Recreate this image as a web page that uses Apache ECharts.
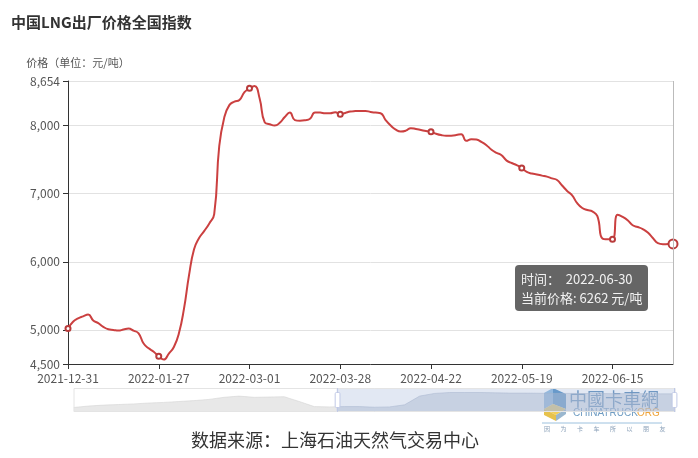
<!DOCTYPE html>
<html><head><meta charset="utf-8">
<script src="https://cdn.jsdelivr.net/npm/echarts@6/dist/echarts.min.js"></script>
<style>html,body{margin:0;padding:0;background:#fff;}#c{width:698px;height:458px;}</style>
</head><body><div id="c"></div>
<script>
const dates = [
'2021-12-31',
'2022-01-04','2022-01-05','2022-01-06','2022-01-07','2022-01-10','2022-01-11','2022-01-12','2022-01-13','2022-01-14',
'2022-01-17','2022-01-18','2022-01-19','2022-01-20','2022-01-21','2022-01-24','2022-01-25','2022-01-26','2022-01-27',
'2022-01-28','2022-02-07','2022-02-08','2022-02-09','2022-02-10','2022-02-11','2022-02-14','2022-02-15','2022-02-16',
'2022-02-17','2022-02-18','2022-02-21','2022-02-22','2022-02-23','2022-02-24','2022-02-25','2022-02-28','2022-03-01',
'2022-03-02','2022-03-03','2022-03-04','2022-03-07','2022-03-08','2022-03-09','2022-03-10','2022-03-11','2022-03-14',
'2022-03-15','2022-03-16','2022-03-17','2022-03-21','2022-03-22','2022-03-23','2022-03-24','2022-03-25','2022-03-28',
'2022-03-29','2022-03-30','2022-03-31','2022-04-01','2022-04-02','2022-04-06','2022-04-07','2022-04-08','2022-04-11',
'2022-04-12','2022-04-13','2022-04-14','2022-04-15','2022-04-18','2022-04-19','2022-04-20','2022-04-21','2022-04-22',
'2022-04-24','2022-04-25','2022-04-26','2022-04-27','2022-04-28','2022-04-29','2022-05-05','2022-05-06','2022-05-07',
'2022-05-09','2022-05-10','2022-05-11','2022-05-12','2022-05-13','2022-05-16','2022-05-17','2022-05-18','2022-05-19',
'2022-05-20','2022-05-23','2022-05-24','2022-05-25','2022-05-26','2022-05-27','2022-05-30','2022-05-31','2022-06-01',
'2022-06-02','2022-06-06','2022-06-07','2022-06-08','2022-06-09','2022-06-10','2022-06-13','2022-06-14','2022-06-15',
'2022-06-16','2022-06-17','2022-06-18','2022-06-20','2022-06-21','2022-06-22','2022-06-23','2022-06-24','2022-06-27',
'2022-06-28','2022-06-29','2022-06-30'
];
const prices = [
5020,
5120,5170,5200,5226,5140,5100,5045,5010,5000,
4990,5005,5020,4990,4950,4800,4730,4680,4613,
4565,4653,4750,4950,5310,5800,6185,6350,6450,
6560,6700,7700,8120,8300,8350,8375,8490,8546,
8580,8400,8050,8020,8000,8040,8125,8190,8080,
8070,8078,8100,8190,8190,8180,8181,8196,8166,
8185,8205,8212,8215,8215,8200,8190,8181,8080,
8000,7940,7912,7925,7962,7950,7935,7920,7908,
7880,7860,7850,7852,7860,7874,7777,7800,7795,
7760,7712,7645,7600,7565,7485,7450,7420,7378,
7320,7295,7282,7265,7250,7225,7200,7120,7040,
6975,6860,6790,6760,6740,6670,6342,6331,6331,
6690,6660,6610,6536,6511,6480,6429,6350,6273,
6258,6260,6262
];
// longer history shown only as the slider's data shadow (relative level)
const shadowValues = [0,10,16,20,24,30,34,40,46,54,68,76,68,70,72,40,6,4,6,6,2,4,18,76,94,100,100,100,98,96,96,95,94,94,93,93,92,92,92,91,91];
const yMin = 4500, yMax = 8654;
const titleText = '中国LNG出厂价格全国指数';
const yName = '价格（单位：元/吨）';
const sourceText = '数据来源：上海石油天然气交易中心';

const FONT = '"Noto Sans CJK SC","Noto Sans",sans-serif';
const chart = echarts.init(document.getElementById('c'));

const smallChars = ['因','为','卡','车','所','以','朋','友'];
const logoChildren = [
  {type:'polygon', shape:{points:[[544,393],[553,388],[553,404],[544,409]]}, style:{fill:'#8fbbe0'}},
  {type:'polygon', shape:{points:[[553,388],[566,394],[566,409],[553,404]]}, style:{fill:'#4f8fc4'}},
  {type:'polygon', shape:{points:[[544,409],[553,404],[566,409],[556,415]]}, style:{fill:'#f2cf5a'}},
  {type:'polygon', shape:{points:[[544,409],[556,415],[556,421],[544,415]]}, style:{fill:'#e7c24c'}},
  {type:'polygon', shape:{points:[[556,415],[566,409],[566,414],[556,421]]}, style:{fill:'#9ab7cf'}},
  {type:'text', x:569, y:399, style:{text:'中國卡車網', fill:'#5b8cb9', fontSize:18, fontFamily:'"Noto Sans CJK TC",sans-serif', verticalAlign:'middle'}},
  {type:'text', x:573, y:413, style:{text:'CHINATRUCK', fill:'#6f9cc2', fontSize:10, fontFamily:'"Liberation Sans",sans-serif', verticalAlign:'middle'}},
  {type:'text', x:637, y:413, style:{text:'ORG', fill:'#f0a43a', fontSize:10, fontFamily:'"Liberation Sans",sans-serif', verticalAlign:'middle'}},
  {type:'line', shape:{x1:542,y1:423,x2:662,y2:423}, style:{stroke:'#9cc1de', lineWidth:1}}
];
smallChars.forEach(function(ch, i){
  logoChildren.push({type:'text', x:544 + i*16.5, y:429, style:{text:ch, fill:'#8aa0b8', fontSize:6, fontFamily:FONT, verticalAlign:'middle'}});
});

const option = {
  animation: false,
  textStyle: {fontFamily: FONT},
  title: {text: titleText, left: 11, top: 15, padding: 0,
    textStyle: {fontSize: 15, fontWeight: 'bold', color: '#333', fontFamily: FONT}},
  grid: [
    {left: 68, right: 25, top: 81, bottom: 94},
    {left: -600, top: 0, width: 100, height: 20}
  ],
  tooltip: {
    trigger: 'axis', triggerOn: 'none', alwaysShowContent: true,
    position: [515, 265],
    backgroundColor: 'rgba(88,88,88,0.92)', borderWidth: 0, padding: [4, 6],
    textStyle: {color: '#f2f2f2', fontSize: 13, fontFamily: FONT},
    extraCssText: 'box-shadow:none;border-radius:4px;line-height:19px;',
    axisPointer: {type: 'line', lineStyle: {color: '#bbbbbb', width: 1, type: 'solid'}},
    formatter: function (params) {
      const p = params.filter(function (q) { return q.seriesIndex === 0; })[0];
      return '时间：&nbsp;&nbsp;' + p.name + '<br/>当前价格: ' + p.value + ' 元/吨';
    }
  },
  xAxis: [
    {type: 'category', gridIndex: 0, data: dates, boundaryGap: false,
      axisLine: {lineStyle: {color: '#333'}},
      axisTick: {interval: 17, lineStyle: {color: '#333'}},
      axisLabel: {interval: 17, color: '#555', fontSize: 12, margin: 8},
      splitLine: {show: false}},
    {type: 'category', gridIndex: 1, show: false, boundaryGap: false,
      data: shadowValues.map(function (v, i) { return i; })}
  ],
  yAxis: [
    {type: 'value', gridIndex: 0, min: yMin, max: yMax,
      name: yName, nameLocation: 'end', nameGap: 13,
      nameTextStyle: {color: '#555', fontSize: 11, align: 'center', padding: [0, 0, 0, 20]},
      axisLine: {show: true, lineStyle: {color: '#333'}},
      axisTick: {show: true, lineStyle: {color: '#333'}},
      axisLabel: {color: '#555', fontSize: 12},
      splitLine: {lineStyle: {color: '#e2e2e2'}}},
    {type: 'value', gridIndex: 1, show: false}
  ],
  dataZoom: [{
    type: 'slider', xAxisIndex: 1, start: 43.7, end: 100,
    left: 71, right: 25, top: 388, height: 24,
    showDetail: false, brushSelect: false,
    borderColor: '#e4e4e4',
    fillerColor: 'rgba(160,180,215,0.3)',
    dataBackground: {lineStyle: {color: '#cfcfcf', width: 0.5}, areaStyle: {color: '#d9d9d9', opacity: 0.6}},
    selectedDataBackground: {lineStyle: {color: '#a9b4c8', width: 0.5}, areaStyle: {color: '#b3bdd0', opacity: 0.5}}
  }],
  series: [
    {type: 'line', name: '当前价格', data: prices, smooth: true,
      symbol: 'emptyCircle', symbolSize: 5,
      lineStyle: {color: '#b93b3b', width: 2},
      itemStyle: {color: '#b93b3b'},
      emphasis: {scale: 1.8}},
    {type: 'line', xAxisIndex: 1, yAxisIndex: 1, data: shadowValues,
      symbol: 'none', silent: true, lineStyle: {opacity: 0}, tooltip: {show: false}}
  ],
  graphic: [
    {type: 'text', x: 335, y: 440, style: {text: sourceText, fill: '#333', fontSize: 18, fontFamily: FONT, align: 'center', verticalAlign: 'middle'}},
    {type: 'group', z: 100, children: logoChildren}
  ]
};
chart.setOption(option);
chart.dispatchAction({type: 'showTip', seriesIndex: 0, dataIndex: prices.length - 1});
</script></body></html>
